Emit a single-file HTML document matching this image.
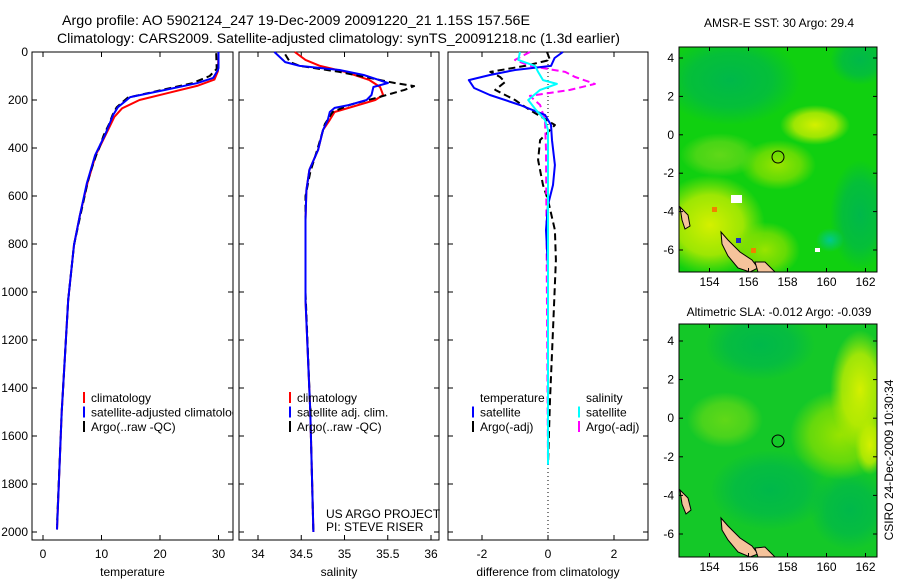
<!DOCTYPE html>
<html><head><meta charset="utf-8">
<style>
html,body{margin:0;padding:0;background:#fff;}
svg{display:block;font-family:"Liberation Sans",sans-serif;}
.t{font-size:12px;fill:#000;}
.lg{font-size:12px;fill:#000;}
.ti{font-size:14px;fill:#000;}
</style></head>
<body>
<svg id="fig" width="900" height="580" viewBox="0 0 900 580">
<defs>
<radialGradient id="gTeal"><stop offset="0" stop-color="#00b84a"/><stop offset="0.6" stop-color="#00b84a" stop-opacity="0.7"/><stop offset="1" stop-color="#00b84a" stop-opacity="0"/></radialGradient>
<radialGradient id="gYel"><stop offset="0" stop-color="#d4f000"/><stop offset="0.6" stop-color="#c0ec00" stop-opacity="0.8"/><stop offset="1" stop-color="#b0e800" stop-opacity="0"/></radialGradient>
<radialGradient id="gYG"><stop offset="0" stop-color="#98e400"/><stop offset="0.6" stop-color="#88e000" stop-opacity="0.7"/><stop offset="1" stop-color="#80e000" stop-opacity="0"/></radialGradient>
<radialGradient id="gLG"><stop offset="0" stop-color="#60d818"/><stop offset="0.6" stop-color="#60d818" stop-opacity="0.7"/><stop offset="1" stop-color="#60d818" stop-opacity="0"/></radialGradient>
<radialGradient id="gCy"><stop offset="0" stop-color="#00c890"/><stop offset="1" stop-color="#00c890" stop-opacity="0"/></radialGradient>
<clipPath id="c1"><rect x="679" y="47" width="198" height="225"/></clipPath>
<clipPath id="c2"><rect x="679" y="324" width="198" height="233"/></clipPath>
<clipPath id="cpT"><rect x="32" y="52" width="201" height="488"/></clipPath>
</defs>
<rect width="900" height="580" fill="#fff"/>
<text class="ti" x="62" y="25" textLength="468" lengthAdjust="spacingAndGlyphs">Argo profile: AO 5902124_247 19-Dec-2009 20091220_21 1.15S 157.56E</text>
<text class="ti" x="57" y="43" textLength="563" lengthAdjust="spacingAndGlyphs">Climatology: CARS2009. Satellite-adjusted climatology: synTS_20091218.nc (1.3d earlier)</text>

<g id="panels"></g>

<g>
<g clip-path="url(#c1)">
<rect x="679" y="47" width="198" height="225" fill="#10d010"/>
<ellipse cx="730" cy="80" rx="70" ry="45" fill="url(#gTeal)"/>
<ellipse cx="860" cy="60" rx="30" ry="25" fill="url(#gTeal)"/>
<ellipse cx="860" cy="215" rx="30" ry="55" fill="url(#gTeal)"/>
<ellipse cx="815" cy="125" rx="35" ry="20" fill="url(#gYel)"/>
<ellipse cx="778" cy="165" rx="38" ry="25" fill="url(#gYG)"/>
<ellipse cx="720" cy="155" rx="40" ry="22" fill="url(#gLG)"/>
<ellipse cx="710" cy="225" rx="55" ry="50" fill="url(#gYel)"/>
<ellipse cx="765" cy="250" rx="35" ry="28" fill="url(#gYG)"/>
<ellipse cx="830" cy="240" rx="14" ry="12" fill="url(#gCy)"/>
<rect x="731" y="195" width="11" height="8" fill="#fff"/>
<rect x="736" y="238" width="5" height="5" fill="#2030c0"/>
<rect x="751" y="248" width="5" height="5" fill="#f08000"/>
<rect x="712" y="207" width="5" height="5" fill="#f08000"/>
<rect x="815" y="248" width="5" height="4" fill="#fff"/>
<polygon points="680,207 688,215 690,226 685,229 682,220" fill="#f5c39b" stroke="#000" stroke-width="1"/>
<polygon points="721,232 728,240 740,252 752,260 758,268 750,272 738,268 728,256 722,244" fill="#f5c39b" stroke="#000" stroke-width="1"/>
<polygon points="755,262 765,262 775,272 758,272" fill="#f5c39b" stroke="#000" stroke-width="1"/>
<circle cx="778" cy="157" r="6" fill="none" stroke="#000" stroke-width="1"/>
</g>
<rect x="679" y="47" width="198" height="225" fill="none" stroke="#000"/>
</g>
<text class="t" x="779" y="27" text-anchor="middle">AMSR-E SST: 30 Argo: 29.4</text>

<g>
<g clip-path="url(#c2)">
<rect x="679" y="324" width="198" height="233" fill="#14c828"/>
<ellipse cx="760" cy="345" rx="55" ry="35" fill="url(#gTeal)"/>
<ellipse cx="770" cy="490" rx="60" ry="40" fill="url(#gTeal)"/>
<ellipse cx="850" cy="510" rx="40" ry="40" fill="url(#gTeal)"/>
<ellipse cx="840" cy="435" rx="50" ry="45" fill="url(#gYG)"/>
<ellipse cx="860" cy="390" rx="30" ry="60" fill="url(#gYel)"/>
<ellipse cx="870" cy="445" rx="15" ry="30" fill="url(#gYel)"/>
<ellipse cx="725" cy="420" rx="38" ry="28" fill="url(#gLG)"/>
<polygon points="680,490 688,498 691,510 686,514 682,504" fill="#f5c39b" stroke="#000" stroke-width="1"/>
<polygon points="721,518 728,526 740,538 752,546 758,554 750,557 738,552 728,540 722,530" fill="#f5c39b" stroke="#000" stroke-width="1"/>
<polygon points="755,548 765,547 775,557 758,557" fill="#f5c39b" stroke="#000" stroke-width="1"/>
<circle cx="778" cy="441" r="6" fill="none" stroke="#000" stroke-width="1"/>
</g>
<rect x="679" y="324" width="198" height="233" fill="none" stroke="#000"/>
</g>
<text class="t" x="779" y="316" text-anchor="middle">Altimetric SLA: -0.012 Argo: -0.039</text>
<text class="t" x="0" y="0" transform="translate(893,460) rotate(-90)" text-anchor="middle">CSIRO 24-Dec-2009 10:30:34</text>
<g id="mapaxes"></g>
</svg>
<script>
const depthTicks=[0,200,400,600,800,1000,1200,1400,1600,1800,2000];
const tTicks=[0,10,20,30];
const sTicks=[34,34.5,35,35.5,36];
const dTicks=[-2,0,2];
const tempClimD=[0,80,115,140,170,200,235,270,346,430,546,680,804,1033,1500,1990];
const tempClimV=[30,29.9,29.3,26.5,21.5,16.5,13.5,12.2,10.7,9.0,7.6,6.3,5.3,4.3,3.2,2.4];
const tempSatD=[0,67,75,108,130,158,188,230,262,346,430,546,680,804,1033,1500,1990];
const tempSatV=[30,30,29.9,29.1,26.3,20.9,14.9,12.8,12,10.6,8.9,7.5,6.3,5.3,4.3,3.2,2.4];
const tempArgoD=[5,70,100,130,160,190,230,262,300,346,400,430,500,546,680,804,1033,1500,1970];
const tempArgoV=[29.6,29.7,28.5,25.5,20,14.5,12.6,11.9,11.3,10.4,9.6,9.1,8.1,7.6,6.4,5.3,4.3,3.2,2.4];
const salClimD=[0,33,58,83,117,146,179,200,225,250,283,325,408,491,575,700,1033,1500,2000];
const salClimV=[34.426,34.549,34.717,35.009,35.289,35.412,35.446,35.356,35.121,34.886,34.83,34.751,34.695,34.594,34.56,34.549,34.549,34.605,34.64];
const salSatD=[0,42,58,75,96,117,129,146,179,200,221,233,250,283,325,408,491,575,700,1033,1500,2000];
const salSatV=[34.19,34.314,34.482,34.942,35.222,35.401,35.502,35.334,35.312,35.255,35.054,34.886,34.83,34.807,34.751,34.695,34.594,34.56,34.549,34.549,34.605,34.64];
const salArgoD=[10,42,58,83,108,129,142,158,188,221,250,300,408,500,600,1000,1500,1990];
const salArgoV=[34.314,34.37,34.482,34.942,35.289,35.58,35.805,35.693,35.401,35.054,34.863,34.773,34.684,34.605,34.549,34.549,34.605,34.639];
const dTsatD=[0,25,58,75,96,117,150,179,221,262,304,367,471,554,637,742,900,1720];
const dTsatV=[0.45,0.2,0.09,-1.0,-1.76,-2.4,-2.24,-1.76,-0.85,-0.09,0.09,0.12,0.21,0.15,0,-0.06,0,0];
const dSsatD=[0,33,58,83,117,133,158,200,242,283,325,1720];
const dSsatV=[-0.85,-0.9,-0.39,-0.3,-0.15,0.27,-0.24,-0.6,-0.36,-0.09,0,0];
const dSargoD=[0,33,58,83,104,133,158,183,221,283,408,1720];
const dSargoV=[-0.55,-1.0,-0.55,0.52,0.82,1.42,0.67,-0.55,-0.24,-0.09,-0.06,0];
const dTargoD=[0,33,58,83,104,125,158,200,242,304,367,450,554,617,742,867,1158,1450,1720];
const dTargoV=[-0.03,0.06,-0.7,-1.75,-1.45,-1.3,-1.6,-1.0,-0.55,0.21,-0.24,-0.3,-0.15,0,0.21,0.24,0.15,0.06,0];
const latTicks=[4,2,0,-2,-4,-6];
const lonTicks=[154,156,158,160,162];

const NS='http://www.w3.org/2000/svg';
const P=document.getElementById('panels');
function el(tag,attrs,parent){const e=document.createElementNS(NS,tag);for(const k in attrs)e.setAttribute(k,attrs[k]);(parent||P).appendChild(e);return e;}
const yD=d=>52+d*0.24;
const PB=540;
const panels=[
 {x0:32,x1:233,sx:v=>43+5.85*v,ticks:tTicks,label:'temperature',name:'temperature-panel'},
 {x0:239,x1:439,sx:v=>258+86.5*(v-34),ticks:sTicks,label:'salinity',name:'salinity-panel'},
 {x0:448,x1:648,sx:v=>548+33*v,ticks:dTicks,label:'difference from climatology',name:'difference-panel'}
];
panels.forEach((p,i)=>{
 const g=el('g',{});
 
 
 const r=el('rect',{x:p.x0,y:52,width:p.x1-p.x0,height:PB-52,fill:'none',stroke:'#000','stroke-width':1},g);
 
 
 depthTicks.forEach(d=>{
  el('line',{x1:p.x0,x2:p.x0+5,y1:yD(d),y2:yD(d),stroke:'#000'},g);
  el('line',{x1:p.x1-5,x2:p.x1,y1:yD(d),y2:yD(d),stroke:'#000'},g);
  if(i===0){const t=el('text',{x:28,y:yD(d)+4,'text-anchor':'end',class:'t'},g);t.textContent=d;
   
   }
 });
 p.ticks.forEach(v=>{
  const x=p.sx(v);
  el('line',{x1:x,x2:x,y1:52,y2:57,stroke:'#000'},g);
  el('line',{x1:x,x2:x,y1:PB-5,y2:PB,stroke:'#000'},g);
  const t=el('text',{x:x,y:558,'text-anchor':'middle',class:'t'},g);t.textContent=v;
  
  
 });
 const xl=el('text',{x:(p.x0+p.x1)/2,y:576,'text-anchor':'middle',class:'t'},g);xl.textContent=p.label;
 
 
 p.g=g;
});
function line(p,D,V,color,dash,name){
 const pts=D.map((d,k)=>p.sx(V[k]).toFixed(1)+','+yD(d).toFixed(1)).join(' ');
 const a={points:pts,fill:'none',stroke:color,'stroke-width':2,'stroke-linejoin':'round'};
 if(dash)a['stroke-dasharray']='7,4';
 const e=el('polyline',a,p.g);
 
 
}
const [pT,pS,pD]=panels;
line(pT,tempClimD,tempClimV,'#f00',false,'temperature-climatology');
line(pT,tempArgoD,tempArgoV,'#000',true,'temperature-argo');
line(pT,tempSatD,tempSatV,'#00f',false,'temperature-satellite');
line(pS,salClimD,salClimV,'#f00',false,'salinity-climatology');
line(pS,salArgoD,salArgoV,'#000',true,'salinity-argo');
line(pS,salSatD,salSatV,'#00f',false,'salinity-satellite');
el('line',{x1:548,x2:548,y1:52,y2:PB,stroke:'#000','stroke-dasharray':'1,3'},pD.g);
line(pD,dTargoD,dTargoV,'#000',true,'temp-diff-argo');
line(pD,dSargoD,dSargoV,'#f0f',true,'sal-diff-argo');
line(pD,dTsatD,dTsatV,'#00f',false,'temp-diff-satellite');
line(pD,dSsatD,dSsatV,'#0ff',false,'sal-diff-satellite');

function legend(g,x,y,items,name){
 items.forEach((it,k)=>{
  const yy=y+k*14.5;
  if(it[0]){el('line',{x1:x,x2:x,y1:yy-10,y2:yy+1,stroke:it[0],'stroke-width':2},g);}
  const t=el('text',{x:x+7,y:yy,class:'lg'},g);t.textContent=it[1];
  
  
 });
}
const lgT=el('g',{'clip-path':'url(#cpT)'},pT.g);
legend(lgT,84,402,[['#f00','climatology'],['#00f','satellite-adjusted climatology'],['#000','Argo(..raw -QC)']],'legend-entry');
legend(pS.g,290,402,[['#f00','climatology'],['#00f','satellite adj. clim.'],['#000','Argo(..raw -QC)']],'legend-entry');
legend(pD.g,473,402,[[null,'temperature'],['#00f','satellite'],['#000','Argo(-adj)']],'legend-entry');
legend(pD.g,579,402,[[null,'salinity'],['#0ff','satellite'],['#f0f','Argo(-adj)']],'legend-entry');
const t1=el('text',{x:326,y:518,class:'lg'},pS.g);t1.textContent='US ARGO PROJECT';


const t2=el('text',{x:326,y:531,class:'lg'},pS.g);t2.textContent='PI: STEVE RISER';



const M=document.getElementById('mapaxes');
function mapAxes(ytop,y4,scale,ybot,name){
 const latY=v=>y4+(4-v)*scale;
 const lonX=v=>709.5+(v-154)*19.5;
 latTicks.forEach(v=>{
  const y=latY(v);
  el('line',{x1:679,x2:683,y1:y,y2:y,stroke:'#000'},M);
  el('line',{x1:873,x2:877,y1:y,y2:y,stroke:'#000'},M);
  const t=el('text',{x:674,y:y+4,'text-anchor':'end',class:'t'},M);t.textContent=v;
  
  
 });
 lonTicks.forEach(v=>{
  const x=lonX(v);
  el('line',{x1:x,x2:x,y1:ybot-4,y2:ybot,stroke:'#000'},M);
  el('line',{x1:x,x2:x,y1:ytop,y2:ytop+4,stroke:'#000'},M);
  const t=el('text',{x:x,y:ybot+14,'text-anchor':'middle',class:'t'},M);t.textContent=v;
  
  
 });
}
mapAxes(47,58,19.2,272,'sst');
mapAxes(324,341,19.3,557,'sla');
</script>
</body></html>
